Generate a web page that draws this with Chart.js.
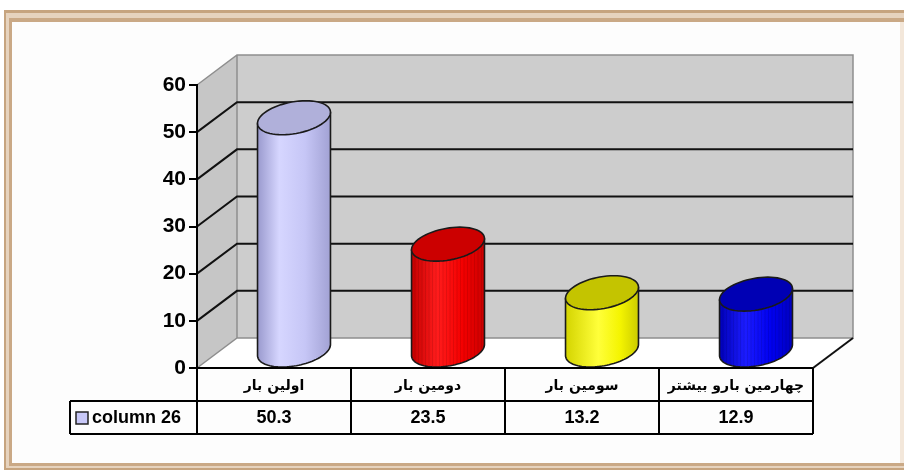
<!DOCTYPE html>
<html><head><meta charset="utf-8">
<script src="https://cdn.jsdelivr.net/npm/chart.js@4"></script>
<style>html,body{margin:0;padding:0;background:#fff;overflow:hidden}</style>
</head><body>
<canvas id="c" width="904" height="470" style="display:block;width:904px;height:470px"></canvas>
<script>
// ---- data ----
const categories = ["اولین بار", "دومین بار", "سومین بار", "چهارمین بارو بیشتر"];
const values = [50.3, 23.5, 13.2, 12.9];
const seriesName = "column 26";
const yMin = 0, yMax = 60, yStep = 10;

// ---- styles ----
const bodyStops = [
  [[0,'#9a9ace'],[0.3,'#d6d6ff'],[0.65,'#c6c6f6'],[1,'#a2a2d4']],
  [[0,'#c40000'],[0.35,'#ff1c1c'],[0.7,'#f40000'],[1,'#cc0000']],
  [[0,'#d4d400'],[0.45,'#ffff3a'],[0.75,'#f4f400'],[1,'#cccc00']],
  [[0,'#0000b8'],[0.35,'#1c1cff'],[0.7,'#0000f0'],[1,'#0000c0']]
];
const topColors = ['#b0b0da', '#cc0000', '#c4c400', '#0000b4'];
const stripes = [false, true, false, true];
const legendColor = '#c8c8f8';
const DX = 40, DY = 30;
const FONT = "'Liberation Sans', Arial, sans-serif";

const frame3d = {
  id: 'frame3d',
  beforeDraw(chart) {
    const ctx = chart.ctx, ca = chart.chartArea, ys = chart.scales.y;
    ctx.save();
    // outer picture frame
    ctx.fillStyle = '#c6a47f'; ctx.fillRect(4, 10, 904, 460);
    ctx.fillStyle = '#e6d3be'; ctx.fillRect(6, 13, 904, 455);
    ctx.fillStyle = '#caa986'; ctx.fillRect(9, 18, 904, 448);
    ctx.fillStyle = '#fdfdfd'; ctx.fillRect(12, 22, 888, 441);
    ctx.fillStyle = '#f3e7da'; ctx.fillRect(900, 22, 4, 441);

    const L = ca.left, R = ca.right, T = ys.getPixelForValue(yMax), B = ys.getPixelForValue(yMin);
    // back wall
    ctx.fillStyle = '#cdcdcd';
    ctx.fillRect(L + DX, T - DY, R - L, B - T);
    // side wall
    ctx.fillStyle = '#c6c6c6';
    ctx.beginPath();
    ctx.moveTo(L, T); ctx.lineTo(L + DX, T - DY); ctx.lineTo(L + DX, B - DY); ctx.lineTo(L, B); ctx.closePath();
    ctx.fill();
    // floor
    ctx.fillStyle = '#ffffff';
    ctx.beginPath();
    ctx.moveTo(L, B); ctx.lineTo(R, B); ctx.lineTo(R + DX, B - DY); ctx.lineTo(L + DX, B - DY); ctx.closePath();
    ctx.fill();
    // wall edges
    ctx.strokeStyle = '#8e8e8e'; ctx.lineWidth = 1.5;
    ctx.beginPath();
    ctx.moveTo(L, T); ctx.lineTo(L + DX, T - DY); ctx.lineTo(R + DX, T - DY); ctx.lineTo(R + DX, B - DY);
    ctx.lineTo(L + DX, B - DY); ctx.lineTo(L, B);
    ctx.moveTo(L + DX, T - DY); ctx.lineTo(L + DX, B - DY);
    ctx.stroke();
    // gridlines
    ctx.strokeStyle = '#111'; ctx.lineWidth = 2;
    for (let v = yMin + yStep; v < yMax; v += yStep) {
      const y = ys.getPixelForValue(v);
      ctx.beginPath();
      ctx.moveTo(L, y); ctx.lineTo(L + DX, y - DY); ctx.lineTo(R + DX, y - DY);
      ctx.stroke();
    }
    // right floor edge
    ctx.beginPath(); ctx.moveTo(R, B); ctx.lineTo(R + DX, B - DY); ctx.stroke();
    ctx.restore();
  }
};

const cylinders = {
  id: 'cylinders',
  afterDatasetsDraw(chart) {
    const ctx = chart.ctx, xs = chart.scales.x;
    const catW = (xs.right - xs.left) / categories.length;
    const a = 0.224 * catW, ux = 0.077 * catW, uy = 17;
    const ts = Math.atan2(ux, a);
    const ext = Math.sqrt(a * a + ux * ux);
    const meta = chart.getDatasetMeta(0);
    meta.data.forEach((bar, i) => {
      const p = bar.getProps(['x', 'y', 'base'], true);
      const cx = p.x + DX / 2, ty = p.y - 13, by = p.base - 17;
      const P = (cy, t) => [cx + a * Math.cos(t) + ux * Math.sin(t), cy - uy * Math.sin(t)];
      const bodyPath = () => {
        ctx.beginPath();
        let q = P(ty, ts); ctx.moveTo(q[0], q[1]);
        const N = 48;
        for (let k = 0; k <= N; k++) { q = P(by, ts - Math.PI * k / N); ctx.lineTo(q[0], q[1]); }
        q = P(ty, ts - Math.PI); ctx.lineTo(q[0], q[1]);
        ctx.closePath();
      };
      ctx.save();
      bodyPath();
      const g = ctx.createLinearGradient(cx - ext, 0, cx + ext, 0);
      bodyStops[i].forEach(s => g.addColorStop(s[0], s[1]));
      ctx.fillStyle = g; ctx.fill();
      if (stripes[i]) {
        ctx.save(); ctx.clip();
        ctx.strokeStyle = 'rgba(0,0,0,0.10)'; ctx.lineWidth = 1;
        for (let x = cx - ext; x < cx + ext; x += 3.5) {
          ctx.beginPath(); ctx.moveTo(x, ty - uy - 2); ctx.lineTo(x, by + uy + 2); ctx.stroke();
        }
        ctx.restore();
      }
      bodyPath();
      ctx.strokeStyle = '#1a1a1a'; ctx.lineWidth = 1.6; ctx.lineJoin = 'round';
      ctx.stroke();
      // top ellipse
      ctx.beginPath();
      for (let k = 0; k <= 64; k++) { const q = P(ty, 2 * Math.PI * k / 64); k ? ctx.lineTo(q[0], q[1]) : ctx.moveTo(q[0], q[1]); }
      ctx.closePath();
      ctx.fillStyle = topColors[i]; ctx.fill();
      ctx.stroke();
      ctx.restore();
    });
  }
};

const dataTable = {
  id: 'dataTable',
  afterDraw(chart) {
    const ctx = chart.ctx, ca = chart.chartArea, xs = chart.scales.x;
    const n = categories.length;
    const catW = (xs.right - xs.left) / n;
    const top = ca.bottom, mid = top + 33, bot = top + 66, legL = 70;
    ctx.save();
    ctx.strokeStyle = '#000'; ctx.lineWidth = 2;
    ctx.beginPath();
    ctx.moveTo(xs.left, top); ctx.lineTo(xs.right, top);
    ctx.moveTo(legL, mid); ctx.lineTo(xs.right, mid);
    ctx.moveTo(legL, bot); ctx.lineTo(xs.right, bot);
    ctx.moveTo(legL, mid); ctx.lineTo(legL, bot);
    for (let i = 0; i <= n; i++) {
      const x = xs.left + i * catW;
      ctx.moveTo(x, top); ctx.lineTo(x, bot);
    }
    ctx.stroke();
    ctx.fillStyle = '#000';
    ctx.textAlign = 'center'; ctx.textBaseline = 'middle';
    categories.forEach((c, i) => {
      ctx.font = "bold 14px 'DejaVu Sans', sans-serif";
      ctx.fillText(c, xs.getPixelForTick(i), top + 18);
      ctx.font = "bold 18px " + FONT;
      ctx.fillText(values[i].toFixed(1), xs.getPixelForTick(i), mid + 17);
    });
    // legend cell
    ctx.fillStyle = legendColor; ctx.fillRect(76, mid + 11, 12, 12);
    ctx.strokeStyle = '#222'; ctx.lineWidth = 1.5; ctx.strokeRect(76, mid + 11, 12, 12);
    ctx.fillStyle = '#000'; ctx.textAlign = 'left';
    ctx.font = "bold 18px " + FONT;
    ctx.fillText(seriesName, 92, mid + 17);
    ctx.restore();
  }
};

new Chart(document.getElementById('c'), {
  type: 'bar',
  data: {
    labels: categories,
    datasets: [{ label: seriesName, data: values, backgroundColor: 'rgba(0,0,0,0)', borderWidth: 0 }]
  },
  options: {
    responsive: false, animation: false, devicePixelRatio: 1,
    layout: { padding: { left: 0, top: 85, right: 91, bottom: 102 } },
    plugins: { legend: { display: false }, tooltip: { enabled: false } },
    scales: {
      x: { display: false },
      y: {
        min: yMin, max: yMax,
        ticks: { stepSize: yStep, color: '#000', padding: 3, font: { family: FONT, size: 21, weight: 'bold' } },
        grid: { drawOnChartArea: false, tickLength: 8, color: '#000', lineWidth: 2 },
        border: { color: '#000', width: 2 },
        afterFit(s) { s.width = 197; }
      }
    }
  },
  plugins: [frame3d, cylinders, dataTable]
});
</script>
</body></html>
